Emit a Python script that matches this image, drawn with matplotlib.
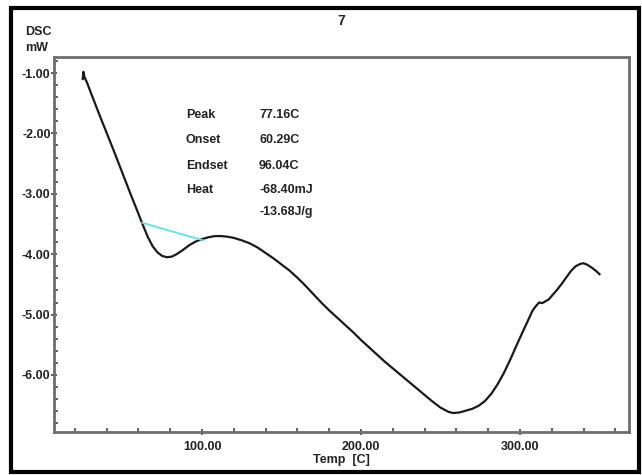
"""DSC thermogram with peak integration baseline."""

import matplotlib.pyplot as plt
from matplotlib.patches import Rectangle
from matplotlib.ticker import FormatStrFormatter, MultipleLocator

plt.rcParams["font.family"] = ["Liberation Sans", "DejaVu Sans"]
plt.rcParams["font.weight"] = "bold"

# heat flow trace
temp_c = [25.0, 25.4, 26.0, 28, 30, 35, 40, 45, 50, 55, 60, 63, 66, 69, 72, 75,
          78, 81, 84, 88, 92, 96, 100, 104, 108, 112, 116, 120, 125, 130, 135,
          140, 145, 150, 155, 160, 165, 170, 175, 180, 185, 190, 195, 200, 205,
          210, 215, 220, 225, 230, 235, 240, 245, 250, 255, 258, 262, 266, 270,
          274, 278, 282, 286, 290, 294, 298, 302, 305, 308, 310, 312, 314, 316,
          318, 320, 323, 326, 329, 332, 335, 338, 340, 342, 345, 348, 350]
dsc_mw = [-1.10, -0.98, -1.06, -1.18, -1.32, -1.66, -1.99, -2.32, -2.66, -3.00,
          -3.33, -3.53, -3.72, -3.87, -3.97, -4.03, -4.05, -4.04, -4.00, -3.93,
          -3.85, -3.79, -3.75, -3.72, -3.70, -3.70, -3.71, -3.73, -3.77, -3.82,
          -3.89, -3.98, -4.07, -4.17, -4.27, -4.39, -4.52, -4.66, -4.80, -4.93,
          -5.05, -5.17, -5.29, -5.42, -5.54, -5.66, -5.78, -5.89, -6.00, -6.11,
          -6.22, -6.33, -6.44, -6.54, -6.61, -6.63, -6.62, -6.59, -6.56, -6.51,
          -6.43, -6.31, -6.15, -5.96, -5.74, -5.50, -5.27, -5.10, -4.93, -4.86,
          -4.80, -4.81, -4.78, -4.75, -4.69, -4.60, -4.50, -4.39, -4.28, -4.20,
          -4.16, -4.15, -4.17, -4.22, -4.28, -4.33]

# integration baseline end points
base_temp = [62.3, 100.6]
base_dsc = [-3.48, -3.77]

result_names = ["Peak", "Onset", "Endset", "Heat", ""]
result_values = ["77.16C", "60.29C", "96.04C", "-68.40mJ", "-13.68J/g"]

TXT = "#222222"
FS = 9

fig = plt.figure(figsize=(6.42, 4.75), dpi=100)
ax = fig.add_axes([0.0841, 0.0905, 0.8957, 0.7895])

ax.plot(temp_c, dsc_mw, color="#1a1a1a", lw=1.6)
ax.plot(base_temp, base_dsc, color="#5ee0ea", lw=1.3)

ax.set_xlim(6.9, 368.6)
ax.set_ylim(-6.944, -0.735)
ax.xaxis.set_major_locator(MultipleLocator(100))
ax.xaxis.set_minor_locator(MultipleLocator(20))
ax.yaxis.set_major_locator(MultipleLocator(1))
ax.yaxis.set_minor_locator(MultipleLocator(0.2))
ax.xaxis.set_major_formatter(FormatStrFormatter("%.2f"))
ax.yaxis.set_major_formatter(FormatStrFormatter("%.2f"))
ax.tick_params(which="major", direction="inout", length=5, width=1.2,
               color="#444444", labelsize=FS, labelcolor=TXT, pad=0)
ax.tick_params(which="minor", direction="in", length=3, width=1.2, color="#444444")
ax.tick_params(axis="x", which="major", pad=4)
for lbl in ax.get_xticklabels() + ax.get_yticklabels():
    lbl.set_fontweight("bold")
for sp in ax.spines.values():
    sp.set_color("#6e6e6e")
    sp.set_linewidth(2)

ax.set_xlabel("Temp  [C]", fontsize=FS, fontweight="bold", color=TXT, labelpad=1)
ax.set_title("7", fontsize=FS + 1, fontweight="bold", color=TXT, pad=23)

fig.text(25 / 642, 1 - 32 / 475, "DSC", fontsize=FS, fontweight="bold",
         color=TXT, va="center")
fig.text(25 / 642, 1 - 48 / 475, "mW", fontsize=FS, fontweight="bold",
         color=TXT, va="center")

# peak evaluation results
rows_y = [115, 140, 166, 190, 212]
for name, value, py in zip(result_names, result_values, rows_y):
    fig.text(186 / 642, 1 - py / 475, name, fontsize=FS, fontweight="bold",
             color=TXT, va="center")
    fig.text(259 / 642, 1 - py / 475, value, fontsize=FS, fontweight="bold",
             color=TXT, va="center")

# outer frame
fig.patches.append(Rectangle((11 / 642, 3 / 475), 628 / 642, 464 / 475,
                             transform=fig.transFigure, fill=False,
                             edgecolor="black", lw=3))

fig.savefig("out.png", dpi=100)
